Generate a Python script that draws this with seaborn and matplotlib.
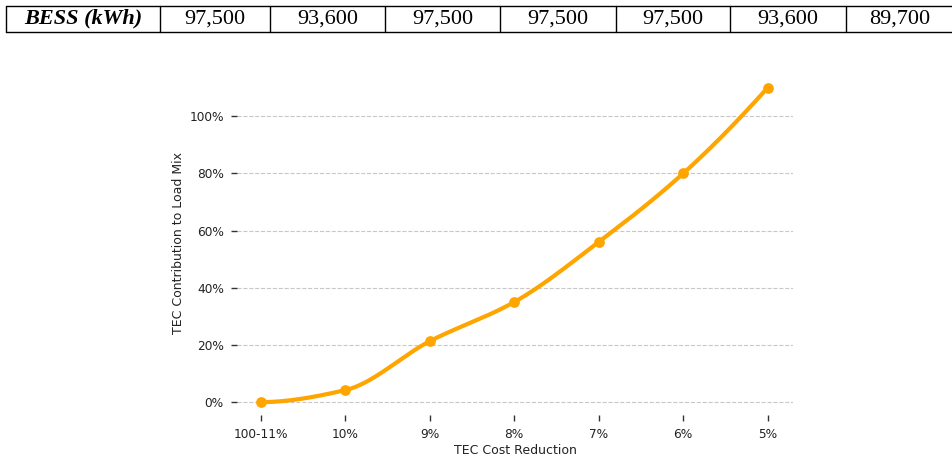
import numpy as np
import pandas as pd
import matplotlib
matplotlib.use("Agg")
import matplotlib.pyplot as plt
from matplotlib.lines import Line2D
from matplotlib.ticker import PercentFormatter
import seaborn as sns

# BESS capacity row shown above the chart
bess_header = "BESS (kWh)"
bess_values = ["97,500", "93,600", "97,500", "97,500", "97,500", "93,600", "89,700"]

# TEC cost reduction scenarios and TEC share of the load mix
scenarios = ["100-11%", "10%", "9%", "8%", "7%", "6%", "5%"]
tec_share = [0.0, 0.042, 0.213, 0.35, 0.56, 0.80, 1.10]

df = pd.DataFrame({"scenario": scenarios, "share": tec_share})
df["pos"] = np.arange(len(df))


def pchip_curve(x, y, n_out=400):
    """Shape-preserving piecewise cubic Hermite curve through the points."""
    x = np.asarray(x, float)
    y = np.asarray(y, float)
    n = len(x)
    h = np.diff(x)
    d = np.diff(y) / h
    m = np.zeros(n)
    for k in range(1, n - 1):
        if d[k - 1] * d[k] > 0:
            w1 = 2 * h[k] + h[k - 1]
            w2 = h[k] + 2 * h[k - 1]
            m[k] = (w1 + w2) / (w1 / d[k - 1] + w2 / d[k])

    def end_slope(h0, h1, d0, d1):
        s = ((2 * h0 + h1) * d0 - h0 * d1) / (h0 + h1)
        if np.sign(s) != np.sign(d0):
            s = 0.0
        elif np.sign(d0) != np.sign(d1) and abs(s) > abs(3 * d0):
            s = 3 * d0
        return s

    m[0] = end_slope(h[0], h[1], d[0], d[1])
    m[-1] = end_slope(h[-1], h[-2], d[-1], d[-2])
    xs = np.linspace(x[0], x[-1], n_out)
    idx = np.clip(np.searchsorted(x, xs) - 1, 0, n - 2)
    t = (xs - x[idx]) / h[idx]
    h00 = 2 * t ** 3 - 3 * t ** 2 + 1
    h10 = t ** 3 - 2 * t ** 2 + t
    h01 = -2 * t ** 3 + 3 * t ** 2
    h11 = t ** 3 - t ** 2
    ys = (h00 * y[idx] + h10 * h[idx] * m[idx]
          + h01 * y[idx + 1] + h11 * h[idx] * m[idx + 1])
    return xs, ys


sns.set_theme(style="white")
plt.rcParams["font.family"] = ["DejaVu Sans"]

fig = plt.figure(figsize=(9.53, 4.57), dpi=100)
ax = fig.add_axes([237 / 953, 1 - 415 / 457, 556 / 953, 343 / 457])

orange = "#FFA500"
xs, ys = pchip_curve(df["pos"], df["share"])
sns.lineplot(x=xs, y=ys, ax=ax, color=orange, linewidth=3, zorder=3)
sns.scatterplot(data=df, x="pos", y="share", ax=ax, color=orange, s=60,
                edgecolor=orange, linewidth=0, zorder=4)

ax.set_xlim(-0.28, len(df) - 0.7)
ax.set_ylim(-0.045, 1.155)
ax.set_xticks(df["pos"])
ax.set_xticklabels(scenarios)
ax.set_yticks([0, 0.2, 0.4, 0.6, 0.8, 1.0])
ax.yaxis.set_major_formatter(PercentFormatter(1.0, decimals=0))
ax.tick_params(axis="both", which="major", bottom=True, left=True, length=4,
               width=1, color="#333333", labelsize=8.7, labelcolor="#222222", pad=5.5)
ax.yaxis.grid(True, linestyle="--", color="#c8c8c8", linewidth=0.8)
ax.xaxis.grid(False)
ax.set_xlabel("TEC Cost Reduction", fontsize=9, color="#222222", labelpad=2)
ax.set_ylabel("TEC Contribution to Load Mix", fontsize=9, color="#222222", labelpad=3)
sns.despine(ax=ax, left=True, bottom=True)

# Table strip across the top
W, H = 953.0, 457.0
top, bottom = 5.5, 32.0
edges = [6, 160, 270, 385, 500, 616, 730, 846, 953]
line_kw = dict(color="black", linewidth=1.0, transform=fig.transFigure)
fig.add_artist(Line2D([edges[0] / W, 1.0], [1 - top / H, 1 - top / H], **line_kw))
fig.add_artist(Line2D([edges[0] / W, 1.0], [1 - bottom / H, 1 - bottom / H], **line_kw))
for e in edges[:-1]:
    fig.add_artist(Line2D([e / W, e / W], [1 - top / H, 1 - bottom / H], **line_kw))

ymid = 1 - (top + bottom) / 2 / H
serif = "Liberation Serif"
fig.text((edges[0] + edges[1]) / 2 / W, ymid, bess_header, ha="center", va="center",
         fontsize=16, fontweight="bold", fontstyle="italic", family=serif, color="black")
for i, v in enumerate(bess_values):
    cx = (edges[i + 1] + edges[i + 2]) / 2 / W
    fig.text(cx, ymid, v, ha="center", va="center", fontsize=16, family=serif,
             color="black")

fig.savefig("out.png", dpi=100)
